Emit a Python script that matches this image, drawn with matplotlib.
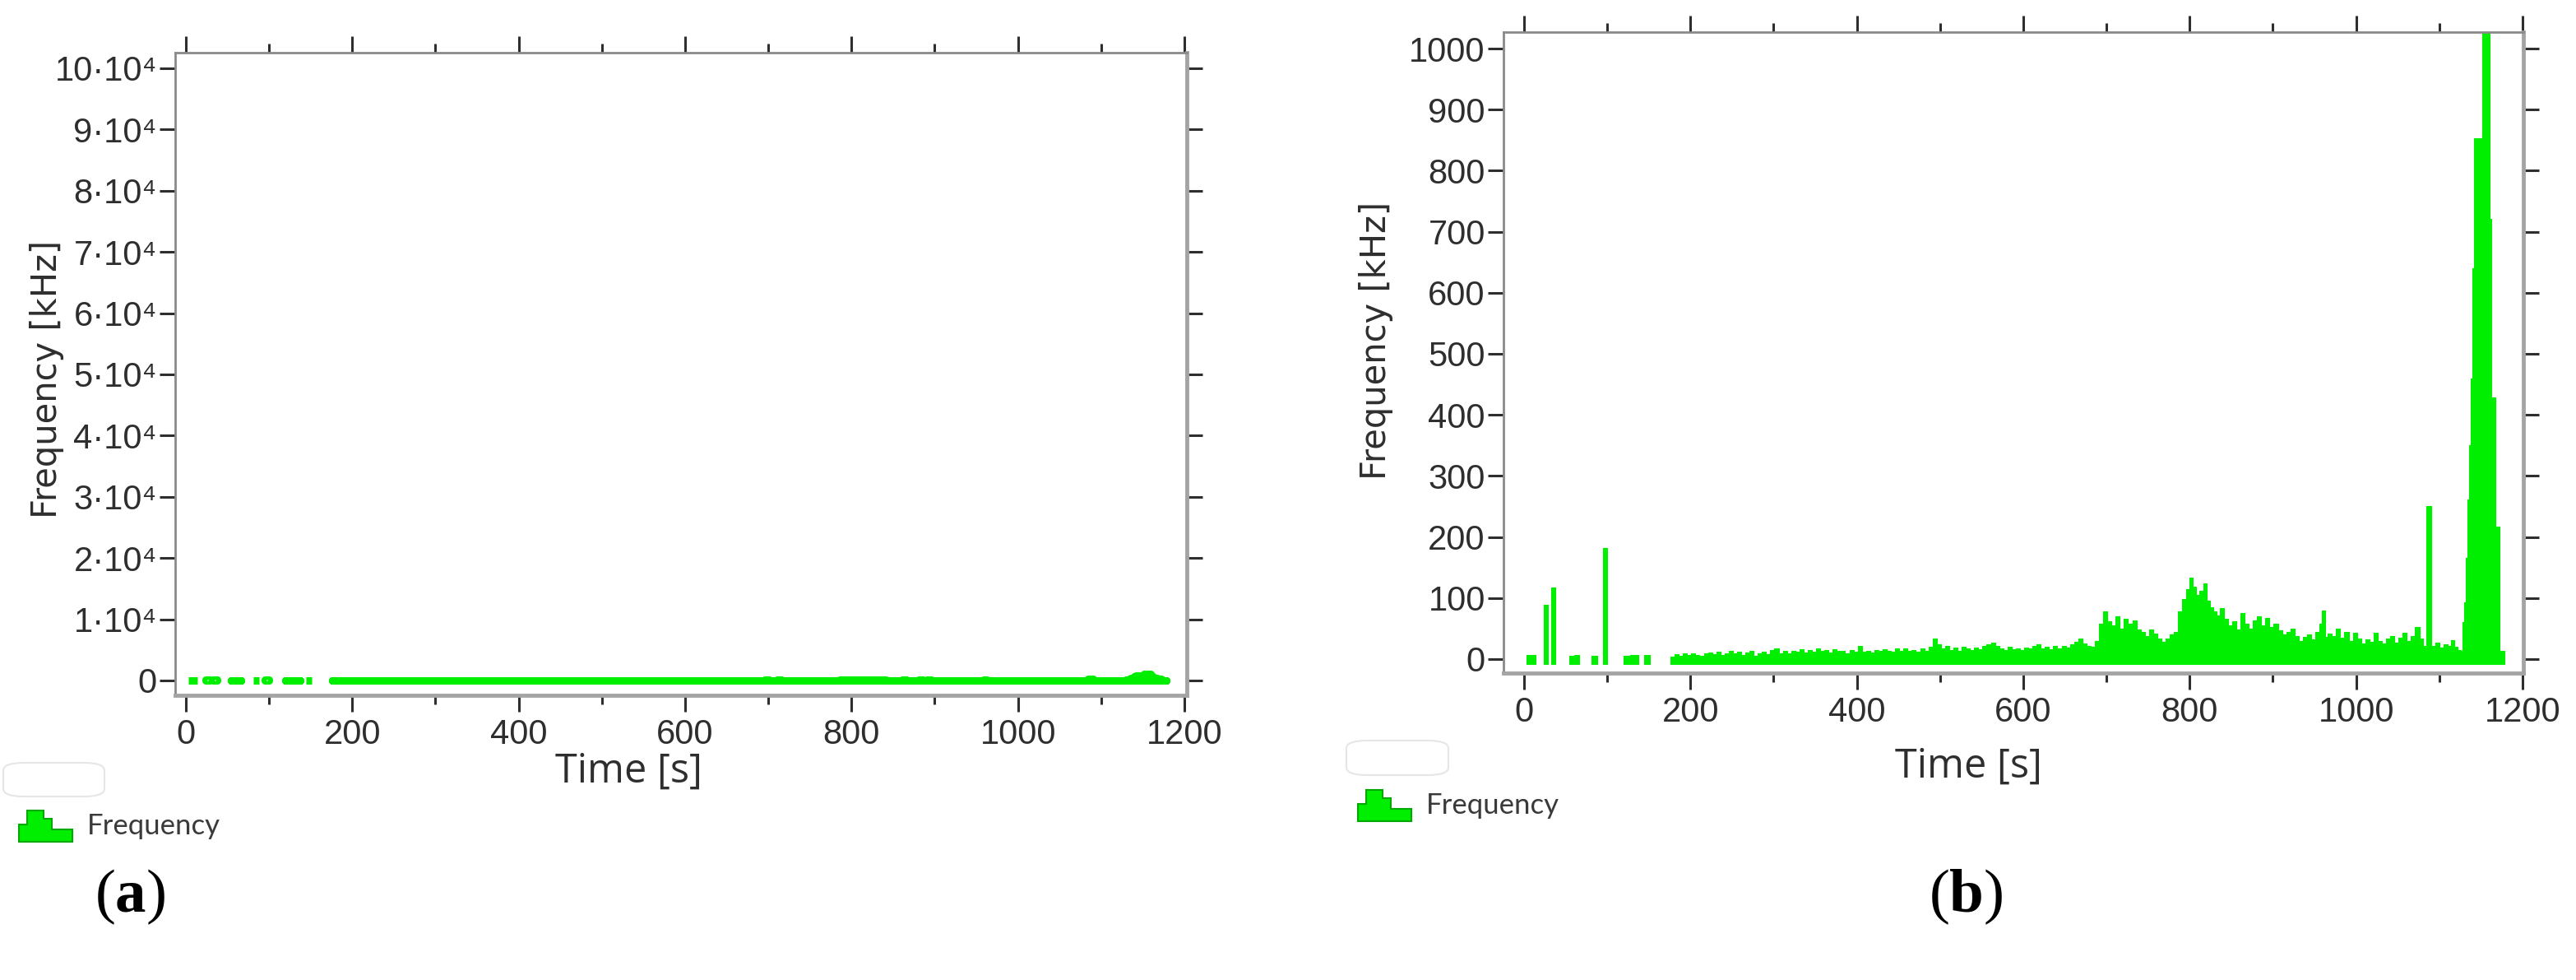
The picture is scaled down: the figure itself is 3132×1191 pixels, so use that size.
import numpy as np
import matplotlib
matplotlib.use("Agg")
import matplotlib.pyplot as plt
from matplotlib.ticker import MultipleLocator
from matplotlib.patches import Polygon, FancyBboxPatch

nan = np.nan

# ---- data (time [s], frequency [kHz]) ----
# short bursts at the start, nan rows are gaps with no signal
early_t = [3, 14, 15, 24, 29, 30, 33, 38, 39, 54, 60, 66, 67, 81, 88, 89,
           95, 100, 101, 120, 128, 137, 138, 144, 151, 152]
early_f = [6, 6, nan, 89, 89, nan, 117, 117, nan, 5, 7, 5, nan, 5, 5, nan,
           182, 182, nan, 5, 7, 5, nan, 6, 6, nan]

# continuous record from ~176 s to the end
main_t = [176, 181, 186, 191, 196, 201, 206, 211, 216, 221, 226, 231, 236, 241,
          246, 251, 256, 261, 266, 271, 276, 281, 286, 291, 296, 301, 306, 311,
          316, 321, 326, 331, 336, 341, 346, 351, 356, 361, 366, 371, 376, 381,
          386, 391, 396, 401, 406, 411, 416, 421, 426, 431, 436, 441, 446, 451,
          456, 461, 466, 471, 476, 481, 486, 491, 496, 501, 506, 511, 516, 521,
          526, 531, 536, 541, 546, 551, 556, 561, 566, 571, 576, 581, 586, 591,
          596, 601, 606, 611, 616, 621, 626, 631, 636, 641, 646, 651, 656, 661,
          666, 671, 676, 681, 686,
          691, 696, 701, 706, 711, 716, 721, 726, 731, 736, 741, 746, 751, 756,
          761, 766, 771, 776, 781, 786, 791, 796, 800, 804, 808, 812, 816, 820,
          824, 828, 832, 836, 841, 846, 851, 856, 861, 866, 871, 876, 881, 886,
          891, 896, 901, 906, 911, 916, 921, 926, 931, 936, 941, 946, 951, 956,
          959, 963, 966, 971, 976, 981, 986, 991, 996, 1001, 1006, 1011, 1016,
          1021, 1026, 1031, 1036, 1041, 1046, 1051, 1056, 1061, 1066, 1071, 1076,
          1080, 1084, 1090, 1095, 1100, 1105, 1110, 1114, 1118, 1122, 1126,
          1128, 1130, 1132, 1134, 1136, 1138, 1140, 1142, 1152, 1160, 1162,
          1167, 1172, 1178]
main_f = [4, 8, 5, 9, 6, 10, 7, 5, 9, 11, 8, 12, 6, 10,
          14, 9, 12, 7, 11, 13, 5, 9, 12, 8, 15, 18, 10, 13,
          9, 14, 12, 16, 11, 15, 12, 17, 13, 15, 11, 16, 13, 14,
          10, 15, 12, 21, 12, 14, 11, 15, 13, 16, 14, 12, 17, 14,
          18, 13, 15, 12, 17, 14, 20, 33, 24, 18, 21, 15, 19, 14,
          20, 17, 15, 19, 16, 21, 24, 27, 22, 18, 15, 20, 16, 18,
          15, 19, 17, 21, 24, 18, 20, 16, 21, 17, 22, 19, 24, 28,
          33, 26, 22, 20, 30,
          58, 78, 62, 55, 70, 50, 66, 58, 63, 48, 45, 38, 49, 42,
          34, 28, 33, 40, 45, 78, 98, 115, 133, 118, 105, 112, 124, 96,
          85, 78, 72, 83, 66, 55, 62, 48, 76, 58, 50, 63, 70, 55,
          67, 52, 58, 47, 40, 45, 50, 38, 29, 36, 40, 32, 45, 58,
          79, 36, 42, 38, 50, 35, 45, 30, 43, 34, 25, 32, 28,
          43, 30, 25, 33, 38, 27, 35, 43, 30, 38, 52, 34,
          22, 250, 22, 27, 19, 24, 22, 31, 20, 15, 13,
          60, 93, 166, 261, 350, 460, 640, 853, 1090, 721, 429,
          217, 13, 13]

time_s = np.array(early_t + main_t, dtype=float)
freq_khz = np.array(early_f + main_f, dtype=float)

left_yticks = [0, 1e4, 2e4, 3e4, 4e4, 5e4, 6e4, 7e4, 8e4, 9e4, 1e5]
left_ylabels = ["0"] + ["%d·10⁴" % k for k in range(1, 11)]
right_yticks = [0, 100, 200, 300, 400, 500, 600, 700, 800, 900, 1000]

GREEN = "#00ee00"
DARKGREEN = "#00a800"
TXT = "#2e2e2e"
W, H = 3132, 1191

plt.rcParams["font.family"] = ["Liberation Sans", "DejaVu Sans"]
plt.rcParams["mathtext.fontset"] = "custom"
plt.rcParams["mathtext.rm"] = "Liberation Serif"
plt.rcParams["mathtext.bf"] = "Liberation Serif:bold"


def fx(px):
    return px / W


def fy(py):
    return 1 - py / H


def style_axes(ax):
    ax.xaxis.set_major_locator(MultipleLocator(200))
    ax.xaxis.set_minor_locator(MultipleLocator(100))
    ax.tick_params(axis="x", which="both", top=True, bottom=True, direction="out",
                   colors=TXT, width=2.2, labelsize=30, pad=6)
    ax.tick_params(axis="x", which="major", length=14.5)
    ax.tick_params(axis="x", which="minor", length=8)
    ax.tick_params(axis="y", which="major", left=True, right=True, direction="out",
                   colors=TXT, length=14, width=2.2, labelsize=30, pad=2)
    for s in ["left", "top"]:
        ax.spines[s].set_color("#8a8a8a")
        ax.spines[s].set_linewidth(2.0)
    for s in ["right", "bottom"]:
        ax.spines[s].set_color("#a4a4a4")
        ax.spines[s].set_linewidth(3.5)


def legend_block(x0, y0, box):
    # faint empty box above the legend entry
    bx0, by0, bx1, by1 = box
    fig.patches.append(FancyBboxPatch((fx(bx0), fy(by1)), fx(bx1 - bx0), (by1 - by0) / H,
                                      boxstyle="round,pad=0,rounding_size=0.008",
                                      transform=fig.transFigure, facecolor="white",
                                      edgecolor="#e6e6e6", lw=1.5))
    steps = [(0, 0), (0, 21), (10, 21), (10, 38), (30, 38), (30, 28),
             (40, 28), (40, 15), (65, 15), (65, 0)]
    pts = [(fx(x0 + dx), fy(y0 - dy)) for dx, dy in steps]
    fig.patches.append(Polygon(pts, closed=True, transform=fig.transFigure,
                               facecolor=GREEN, edgecolor=DARKGREEN, lw=1.5))
    fig.text(fx(x0 + 83), fy(y0 - 19), "Frequency", family="Lato", fontsize=25,
             color="#3a3a3a", va="center", ha="left")


fig = plt.figure(figsize=(W / 100, H / 100), dpi=100)

# ---- (a) full scale ----
ax1 = fig.add_axes([fx(213), fy(845), fx(1443 - 213), (845 - 64) / H])
ax1.fill_between(time_s, 0, freq_khz, step="post", facecolor=GREEN,
                 edgecolor=GREEN, lw=6.5)
ax1.set_xlim(-12.8, 1203)
ax1.set_ylim(-2420, 102550)
ax1.set_yticks(left_yticks, left_ylabels)
style_axes(ax1)

# ---- (b) zoomed scale ----
ax2 = fig.add_axes([fx(1828), fy(818), fx(3068 - 1828), (818 - 39) / H])
ax2.fill_between(time_s, -8, freq_khz, step="post", facecolor=GREEN,
                 edgecolor=GREEN, lw=0.8)
ax2.set_xlim(-24.7, 1201)
ax2.set_ylim(-23, 1027)
ax2.set_yticks(right_yticks)
style_axes(ax2)

# axis titles
fig.text(fx(57), fy(461), "Frequency [kHz]", rotation=90, family="DejaVu Sans",
         fontsize=30, color=TXT, ha="center", va="center")
fig.text(fx(1673), fy(414), "Frequency [kHz]", rotation=90, family="DejaVu Sans",
         fontsize=30, color=TXT, ha="center", va="center")
fig.text(fx(764), fy(938), "Time [s]", family="Open Sans", fontsize=35,
         color=TXT, ha="center", va="center")
fig.text(fx(2393), fy(932), "Time [s]", family="Open Sans", fontsize=35,
         color=TXT, ha="center", va="center")

legend_block(23, 1023, (4, 927, 127, 968))
legend_block(1651, 998, (1637, 900, 1761, 942))

fig.text(fx(158), fy(1090), r"($\mathbf{a}$)", family="Liberation Serif",
         fontsize=54, color="black", ha="center", va="center")
fig.text(fx(2390), fy(1090), r"($\mathbf{b}$)", family="Liberation Serif",
         fontsize=54, color="black", ha="center", va="center")

fig.savefig("out.png", dpi=100, facecolor="white")
